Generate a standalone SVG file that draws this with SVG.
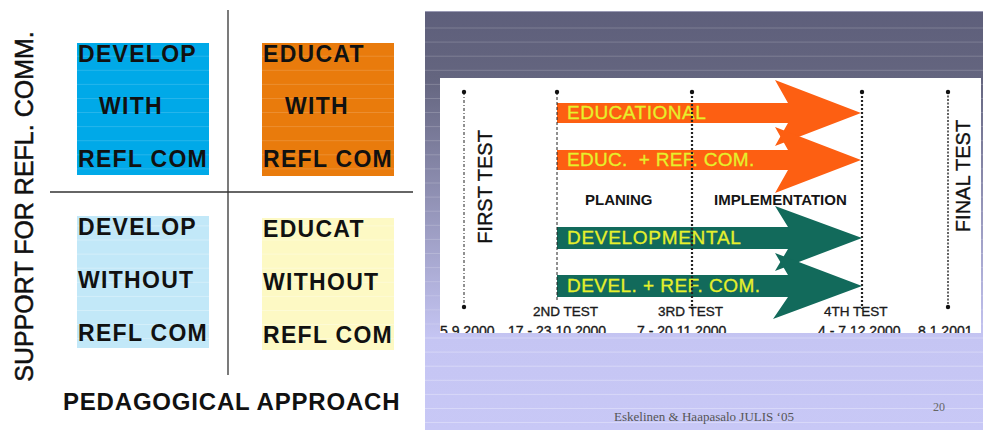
<svg xmlns="http://www.w3.org/2000/svg" width="983" height="430" viewBox="0 0 983 430">
<style>
.sans{font-family:"Liberation Sans",Arial,sans-serif}
.box{font-family:"Liberation Sans",Arial,sans-serif;font-weight:bold;font-size:23px;letter-spacing:1.3px;fill:#111}
.arr{font-family:"Liberation Sans",Arial,sans-serif;font-size:19px;fill:#e6f02c;stroke:#e6f02c;stroke-width:0.3;white-space:pre}
.phase{font-family:"Liberation Sans",Arial,sans-serif;font-weight:bold;font-size:15px;fill:#151515}
.test{font-family:"Liberation Sans",Arial,sans-serif;font-size:13.5px;fill:#1a1a1a;stroke:#1a1a1a;stroke-width:0.35}
.date{font-family:"Liberation Sans",Arial,sans-serif;font-size:14px;fill:#1a1a1a;stroke:#1a1a1a;stroke-width:0.35;white-space:pre}
.vt{font-family:"Liberation Sans",Arial,sans-serif;font-size:20px;fill:#111;stroke:#111;stroke-width:0.35}
.stripe{stroke:#fff;stroke-width:1;fill:none}
.dot{fill:#111}
.orange{fill:#fd5f12}
.green{fill:#126a5b}
</style>
<defs>
<linearGradient id="bg" x1="0" y1="11" x2="0" y2="430" gradientUnits="userSpaceOnUse">
<stop offset="0" stop-color="#5e5f7b"/>
<stop offset="0.16" stop-color="#64657f"/>
<stop offset="0.78" stop-color="#c5c5f3"/>
<stop offset="1" stop-color="#c8c8f6"/>
</linearGradient>
<clipPath id="whiteclip"><rect x="425" y="0" width="558" height="333"/></clipPath>
</defs>
<rect x="0" y="0" width="983" height="430" fill="#fff"/>

<!-- LEFT PANEL -->
<g id="axes" stroke="#333" stroke-width="1.3">
<line x1="228" y1="10" x2="228" y2="375"/>
<line x1="50" y1="192" x2="413" y2="192"/>
</g>
<g id="develop-with">
<rect x="77" y="43" width="132" height="132" fill="#00a9e8"/>
<path class="stripe" opacity="0.15" d="M77 56.2H209M77 70.3H209M77 84.4H209M77 98.5H209M77 112.5H209M77 126.6H209M77 140.7H209M77 154.8H209M77 168.9H209"/>
<text class="box" x="78" y="62">DEVELOP</text>
<text class="box" x="99" y="114">WITH</text>
<text class="box" x="78" y="167">REFL COM</text>
</g>
<g id="educat-with">
<rect x="262" y="43" width="132" height="133" fill="#e97b0c"/>
<path class="stripe" opacity="0.15" d="M262 56.2H394M262 70.3H394M262 84.4H394M262 98.5H394M262 112.5H394M262 126.6H394M262 140.7H394M262 154.8H394M262 168.9H394"/>
<text class="box" x="263" y="62">EDUCAT</text>
<text class="box" x="285" y="114">WITH</text>
<text class="box" x="263" y="167">REFL COM</text>
</g>
<g id="develop-without">
<rect x="77" y="216" width="132" height="132" fill="#c2e8f8"/>
<path class="stripe" opacity="0.3" d="M77 225.9H209M77 240H209M77 254.1H209M77 268.2H209M77 282.3H209M77 296.4H209M77 310.5H209M77 324.5H209M77 338.6H209"/>
<text class="box" x="78" y="235">DEVELOP</text>
<text class="box" x="78" y="288">WITHOUT</text>
<text class="box" x="78" y="341">REFL COM</text>
</g>
<g id="educat-without">
<rect x="262" y="218" width="132" height="132" fill="#fdf9c4"/>
<path class="stripe" opacity="0.3" d="M262 225.9H394M262 240H394M262 254.1H394M262 268.2H394M262 282.3H394M262 296.4H394M262 310.5H394M262 324.5H394M262 338.6H394"/>
<text class="box" x="263" y="237">EDUCAT</text>
<text class="box" x="263" y="290">WITHOUT</text>
<text class="box" x="263" y="343">REFL COM</text>
</g>
<g id="axis-labels">
<text class="sans" font-size="25" fill="#111" stroke="#111" stroke-width="0.5" text-anchor="middle" transform="translate(33,206.5) rotate(-90)">SUPPORT FOR REFL. COMM.</text>
<text class="sans" font-size="24" font-weight="bold" letter-spacing="0.8" fill="#111" x="63" y="410">PEDAGOGICAL APPROACH</text>
</g>

<!-- RIGHT PANEL -->
<g id="slide-bg">
<rect x="425" y="11" width="558" height="419" fill="url(#bg)"/>
<line x1="425" y1="11.5" x2="983" y2="11.5" stroke="#9a9ab4" stroke-width="1"/>
<path class="stripe" opacity="0.18" d="M425 28H983M425 42.1H983M425 56.2H983M425 70.3H983M425 84.4H983M425 98.5H983M425 112.5H983M425 126.6H983M425 140.7H983M425 154.8H983M425 168.9H983M425 183H983M425 197.1H983M425 211.2H983M425 225.3H983M425 239.4H983M425 253.5H983M425 267.6H983M425 281.7H983M425 295.8H983M425 309.9H983M425 324H983"/>
<rect x="440" y="78" width="541" height="255" fill="#fff"/>
</g>

<g id="arrows">
<g id="arrow-educational">
<path class="orange" d="M557 103H788L775 80L861 113L775 146L788 123H557Z"/>
<text class="arr" x="567" y="119" letter-spacing="0.5">EDUCATIONAL</text>
</g>
<g id="arrow-educ-refcom">
<path class="orange" d="M557 150H788L775 127L861 160L775 193L788 170H557Z"/>
<text class="arr" x="567" y="166" letter-spacing="0.3">EDUC.  + REF. COM.</text>
</g>
<g id="arrow-developmental">
<path class="green" d="M557 227H788L775 206L862 238L775 271L788 249H557Z"/>
<text class="arr" x="567" y="244" letter-spacing="0.7">DEVELOPMENTAL</text>
</g>
<g id="arrow-devel-refcom">
<path class="green" d="M557 275H788L775 253L862 286L773 319L788 297H557Z"/>
<text class="arr" x="567" y="292" letter-spacing="0.45">DEVEL. + REF. COM.</text>
</g>
</g>

<g id="connectors" fill="none" stroke="#222">
<line x1="464" y1="92" x2="464" y2="307" stroke-width="1" stroke-dasharray="3 2 1 2"/>
<line x1="557" y1="92" x2="557" y2="300" stroke-width="1" stroke-dasharray="3 2"/>
<line x1="692" y1="92" x2="692" y2="309" stroke-width="2.2" stroke-dasharray="2 2"/>
<line x1="862" y1="92" x2="862" y2="309" stroke-width="2.2" stroke-dasharray="2 2"/>
<line x1="948" y1="92" x2="948" y2="307" stroke-width="1.4" stroke-dasharray="2 1.5"/>
</g>
<g id="dots">
<circle class="dot" cx="464" cy="92" r="2.2"/>
<circle class="dot" cx="557" cy="92" r="2.2"/>
<circle class="dot" cx="692" cy="92" r="2.2"/>
<circle class="dot" cx="862" cy="92" r="2.2"/>
<circle class="dot" cx="948" cy="92" r="2.2"/>
<circle class="dot" cx="464" cy="307" r="2.2"/>
<circle class="dot" cx="948" cy="307" r="2.2"/>
</g>

<g id="phase-labels">
<text class="phase" x="585" y="205">PLANING</text>
<text class="phase" x="714" y="205">IMPLEMENTATION</text>
</g>
<g id="test-labels">
<text class="vt" text-anchor="middle" transform="translate(492,187) rotate(-90)">FIRST TEST</text>
<text class="vt" text-anchor="middle" transform="translate(970,176) rotate(-90)">FINAL TEST</text>
<text class="test" x="533" y="316">2ND TEST</text>
<text class="test" x="658" y="316">3RD TEST</text>
<text class="test" x="824" y="316">4TH TEST</text>
</g>
<g id="dates" clip-path="url(#whiteclip)">
<text class="date" x="440" y="336">5.9.2000</text>
<text class="date" x="508" y="336">17 - 23 10 2000</text>
<text class="date" x="637" y="336">7 - 20 11 2000</text>
<text class="date" x="818" y="336">4 - 7 12 2000</text>
<text class="date" x="918" y="336">8.1.2001</text>
</g>
<g id="footer">
<path class="stripe" opacity="0.3" d="M425 338H983M425 352.1H983M425 366.2H983M425 380.3H983M425 394.4H983M425 408.5H983M425 422.5H983"/>
<text x="704" y="421" text-anchor="middle" font-family="'Liberation Serif','Times New Roman',serif" font-size="13" fill="#555">Eskelinen &amp; Haapasalo  JULIS ‘05</text>
<text x="933" y="411" font-family="'Liberation Serif','Times New Roman',serif" font-size="12" fill="#666">20</text>
</g>
</svg>
